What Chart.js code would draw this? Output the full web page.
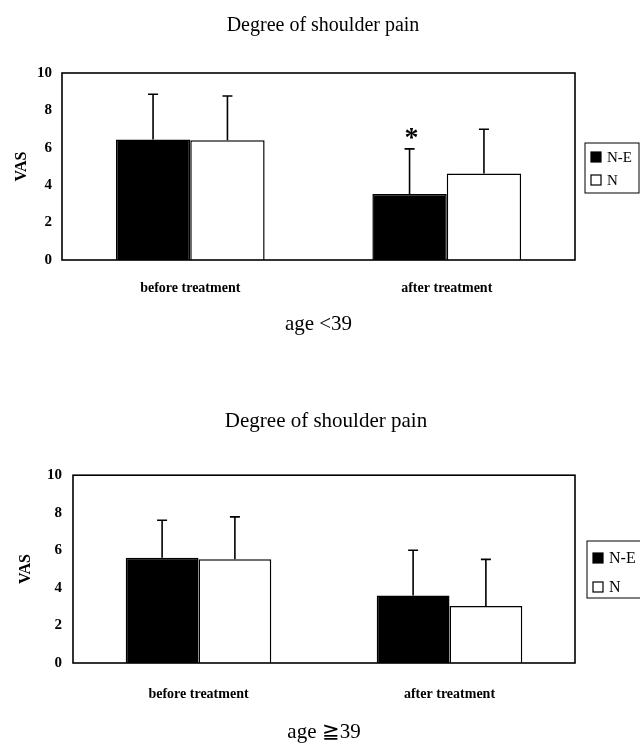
<!DOCTYPE html>
<html>
<head>
<meta charset="utf-8">
<script src="https://cdn.jsdelivr.net/npm/chart.js@4.4.0/dist/chart.umd.min.js"></script>
<style>
  body { margin: 0; background: #fff; width: 640px; height: 743px; overflow: hidden; position: relative; }
  canvas { position: absolute; left: 0; }
  #youngChart { top: 0; }
  #olderChart { top: 400px; }
</style>
</head>
<body>
<canvas id="youngChart" width="640" height="340"></canvas>
<canvas id="olderChart" width="640" height="345"></canvas>
<script>
const categories = ['before treatment', 'after treatment'];
const seriesNames = ['N-E', 'N'];
const yTicks = [0, 2, 4, 6, 8, 10];

// age < 39
const youngNE = [6.45, 3.53];
const youngNESd = [2.41, 2.41];
const youngN = [6.40, 4.63];
const youngNSd = [2.37, 2.36];
const youngNEStars = ['', '*'];

// age >= 39
const olderNE = [5.60, 3.59];
const olderNESd = [2.00, 2.41];
const olderN = [5.52, 3.04];
const olderNSd = [2.26, 2.48];
const olderNEStars = ['', ''];

const serif = "'Liberation Serif', 'DejaVu Serif', serif";

// draws upward SD whiskers and significance stars
const errorBars = {
    id: 'errorBars',
    afterDatasetsDraw(chart) {
        const ctx = chart.ctx;
        const y = chart.scales.y;
        chart.data.datasets.forEach((ds, i) => {
            const meta = chart.getDatasetMeta(i);
            meta.data.forEach((el, j) => {
                const top = y.getPixelForValue(ds.data[j] + ds.sd[j]);
                ctx.save();
                ctx.strokeStyle = '#000';
                ctx.lineWidth = 1.6;
                ctx.beginPath();
                ctx.moveTo(el.x, el.y);
                ctx.lineTo(el.x, top);
                ctx.moveTo(el.x - 5, top);
                ctx.lineTo(el.x + 5, top);
                ctx.stroke();
                if (ds.stars && ds.stars[j]) {
                    ctx.fillStyle = '#000';
                    ctx.font = 'bold 28px ' + serif;
                    ctx.textAlign = 'center';
                    ctx.textBaseline = 'middle';
                    ctx.fillText(ds.stars[j], el.x + 2, top - 10);
                }
                ctx.restore();
            });
        });
    }
};

// box round the plot area
const frame = {
    id: 'frame',
    afterDatasetsDraw(chart) {
        const a = chart.chartArea;
        const ctx = chart.ctx;
        ctx.save();
        ctx.strokeStyle = '#000';
        ctx.lineWidth = 1.6;
        ctx.strokeRect(a.left, a.top, a.right - a.left, a.bottom - a.top);
        ctx.restore();
    }
};

// boxed legend to the right of the plot
const boxLegend = {
    id: 'boxLegend',
    afterDraw(chart, args, opts) {
        const ctx = chart.ctx;
        const a = chart.chartArea;
        const x = a.right + opts.gap;
        const y = opts.top;
        ctx.save();
        ctx.strokeStyle = '#000';
        ctx.lineWidth = 1;
        ctx.strokeRect(x, y, opts.width, opts.height);
        ctx.font = opts.fontSize + 'px ' + serif;
        ctx.textBaseline = 'middle';
        chart.data.datasets.forEach((ds, i) => {
            const cy = y + opts.rowTop + i * opts.rowGap;
            ctx.fillStyle = ds.backgroundColor;
            ctx.fillRect(x + 6, cy - 5, 10, 10);
            ctx.strokeStyle = '#000';
            ctx.lineWidth = 1.2;
            ctx.strokeRect(x + 6, cy - 5, 10, 10);
            ctx.fillStyle = '#000';
            ctx.fillText(ds.label, x + 22, cy + 1);
        });
        ctx.restore();
    }
};

function makeChart(id, ne, neSd, n, nSd, stars, g) {
    const ctx = document.getElementById(id).getContext('2d');
    return new Chart(ctx, {
        type: 'bar',
        data: {
            labels: categories,
            datasets: [
                {
                    label: seriesNames[0],
                    data: ne,
                    sd: neSd,
                    stars: stars,
                    backgroundColor: '#000',
                    borderColor: '#000',
                    borderWidth: 1.5,
                },
                {
                    label: seriesNames[1],
                    data: n,
                    sd: nSd,
                    backgroundColor: '#fff',
                    borderColor: '#000',
                    borderWidth: 1.5,
                },
            ],
        },
        options: {
            responsive: false,
            animation: false,
            layout: { padding: { left: g.padLeft, right: 0, top: 0, bottom: 0 } },
            datasets: { bar: { categoryPercentage: 0.58, barPercentage: 1.0 } },
            scales: {
                x: {
                    grid: { display: false, drawTicks: false },
                    border: { display: false },
                    ticks: { color: '#000', padding: g.xTickPad, font: { family: serif, size: 14, weight: 'bold' } },
                    title: {
                        display: true,
                        text: g.ageLabel,
                        color: '#000',
                        font: { family: serif, size: 21 },
                        padding: { top: 0, bottom: g.ageTitlePad },
                    },
                    afterFit(scale) { scale.height = g.xHeight; },
                },
                y: {
                    min: 0,
                    max: 10,
                    afterBuildTicks(scale) { scale.ticks = yTicks.map(v => ({ value: v })); },
                    grid: { display: false, drawTicks: false },
                    border: { display: false },
                    ticks: { color: '#000', padding: g.yTickPad, font: { family: serif, size: 15, weight: 'bold' } },
                    title: {
                        display: true,
                        text: 'VAS',
                        color: '#000',
                        font: { family: serif, size: 16, weight: 'bold' },
                        padding: { top: g.vasPad, bottom: 0 },
                    },
                    afterFit(scale) { scale.width = g.yWidth; },
                },
                // empty strip on the right that holds the legend box
                legendStrip: {
                    type: 'linear',
                    position: 'right',
                    grid: { display: false, drawTicks: false },
                    border: { display: false },
                    ticks: { display: false },
                    afterFit(scale) { scale.width = 65; },
                },
            },
            plugins: {
                legend: { display: false },
                tooltip: { enabled: false },
                title: {
                    display: true,
                    text: 'Degree of shoulder pain',
                    color: '#000',
                    font: { family: serif, size: g.titleSize, weight: 'normal' },
                    padding: { top: g.titleTop, bottom: g.titleBottom },
                },
                boxLegend: g.legend,
            },
        },
        plugins: [errorBars, frame, boxLegend],
    });
}

makeChart('youngChart', youngNE, youngNESd, youngN, youngNSd, youngNEStars, {
    ageLabel: 'age <39',
    xHeight: 80, xTickPad: 20, ageTitlePad: 3,
    padLeft: 6, yWidth: 56, yTickPad: 10, vasPad: 6,
    titleSize: 20, titleTop: 14, titleBottom: 35,
    legend: { gap: 10, top: 143, width: 54, height: 50, rowTop: 14, rowGap: 23, fontSize: 15 },
});

makeChart('olderChart', olderNE, olderNESd, olderN, olderNSd, olderNEStars, {
    ageLabel: 'age \u226739',
    xHeight: 82, xTickPad: 23, ageTitlePad: 0,
    padLeft: 12, yWidth: 61, yTickPad: 11, vasPad: 4,
    titleSize: 21, titleTop: 9, titleBottom: 41,
    legend: { gap: 12, top: 141, width: 54, height: 57, rowTop: 17, rowGap: 29, fontSize: 16 },
});
</script>
</body>
</html>
